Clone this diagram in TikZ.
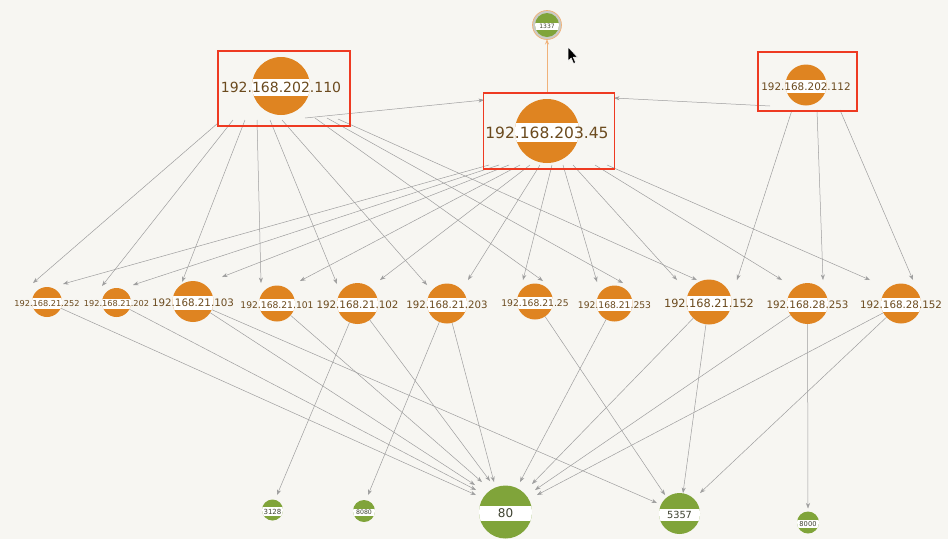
\documentclass[tikz,border=0pt]{standalone}
\usepackage{fontspec}
\setmainfont{DejaVu Sans}
\usetikzlibrary{arrows.meta}
\definecolor{bg}{HTML}{F7F6F2}
\definecolor{ipor}{HTML}{DF8421}
\definecolor{ipgr}{HTML}{80A43A}
\definecolor{iptx}{HTML}{6B4A1E}
\definecolor{pttx}{HTML}{3E4230}
\definecolor{edgec}{HTML}{9E9E9E}
\definecolor{selred}{HTML}{EE3A22}
\definecolor{lnkor}{HTML}{F0B27A}
\definecolor{ringc}{HTML}{CBCBC6}
\pgfdeclarelayer{back}
\pgfdeclarelayer{edges}
\pgfsetlayers{back,edges,main}
\newcommand\gnode[8]{%
  \node[circle, inner sep=0pt, minimum size={2*#4pt}, fill=#7] (#1) at (#2,#3) {};
  \begin{scope}
    \clip (#2,#3) circle[radius=#4pt];
    \fill[white] ({#2-#4-1},{#3+1.5-0.64*#5}) rectangle ({#2+#4+1},{#3+1.5+0.64*#5});
  \end{scope}
  \node[inner sep=0pt, text=#8, font=\fontsize{#5pt}{#5pt}\selectfont] (#1-lbl) at (#2,{#3+1.5}) {#6};
}
\tikzset{
  edge/.style={draw=edgec, line width=0.5pt, -{Stealth[length=5.5pt,width=4pt]}},
  hotedge/.style={draw=lnkor, line width=0.9pt, -{Stealth[length=5.5pt,width=4pt]}},
  selbox/.style={draw=selred, line width=1.1pt}
}
\begin{document}
\begin{tikzpicture}[x=1pt,y=-1pt]
\useasboundingbox (0,0) rectangle (948,539);
\begin{pgfonlayer}{back}
  \fill[bg] (0,0) rectangle (948,539);
\end{pgfonlayer}

% ---- nodes ----
\node[circle, inner sep=0pt, minimum size=29pt, fill=ringc, draw=lnkor, line width=0.7pt] (p1337) at (547,25) {};
\gnode{p1337c}{547}{25}{12}{6}{1337}{ipgr}{pttx}

\gnode{A}{281}{86}{29}{14}{192.168.202.110}{ipor}{iptx}
\gnode{B}{547}{131}{32}{15.5}{192.168.203.45}{ipor}{iptx}
\gnode{C}{806}{85}{20.5}{10.4}{192.168.202.112}{ipor}{iptx}

\gnode{n252}{47}{302}{15}{8.2}{192.168.21.252}{ipor}{iptx}
\gnode{n202}{116.5}{302.5}{14.5}{8.2}{192.168.21.202}{ipor}{iptx}
\gnode{n103}{193}{301.5}{20.5}{10.3}{192.168.21.103}{ipor}{iptx}
\gnode{n101}{277}{303.5}{18}{9.2}{192.168.21.101}{ipor}{iptx}
\gnode{n102}{357.5}{303.5}{20.5}{10.3}{192.168.21.102}{ipor}{iptx}
\gnode{n203}{447}{303.5}{20}{10.2}{192.168.21.203}{ipor}{iptx}
\gnode{n25}{535}{301.5}{18}{9.2}{192.168.21.25}{ipor}{iptx}
\gnode{n253}{614.5}{303.5}{18}{9.2}{192.168.21.253}{ipor}{iptx}
\gnode{n152}{709}{302}{22.5}{11.3}{192.168.21.152}{ipor}{iptx}
\gnode{m253}{807.5}{303.5}{20.5}{10.3}{192.168.28.253}{ipor}{iptx}
\gnode{m152}{901}{303.5}{20}{10.3}{192.168.28.152}{ipor}{iptx}

\gnode{p3128}{272.5}{510}{10.5}{7}{3128}{ipgr}{pttx}
\gnode{p8080}{364}{511}{11}{6.2}{8080}{ipgr}{pttx}
\gnode{p80}{505.5}{512}{26.5}{12}{80}{ipgr}{pttx}
\gnode{p5357}{679.5}{513.5}{20.5}{9.8}{5357}{ipgr}{pttx}
\gnode{p8000}{808}{522.5}{11}{6.7}{8000}{ipgr}{pttx}

% ---- selection boxes ----
\draw[selbox] (218,51) rectangle (350,126);
\draw[selbox] (483.5,93) rectangle (614.5,169);
\draw[selbox] (758,52) rectangle (857,111);

% ---- mouse cursor ----
\filldraw[fill=black, draw=white, line width=0.5pt] (568,47) -- (568,61) -- (571.2,58) -- (573.6,63.5) -- (575.6,62.6) -- (573.2,57.2) -- (577.5,57.2) -- cycle;

% ---- edges ----
\begin{pgfonlayer}{edges}
\draw[hotedge] ([shift={(0,-38)}]B.center) -- ([shift={(0,14)}]p1337.center);

% from 192.168.202.110
\draw[edge] ([shift={(-63,37)}]A.center) -- ([shift={(-14,-19)}]n252.center);
\draw[edge] ([shift={(-48,34)}]A.center) -- ([shift={(-14.5,-16.5)}]n202.center);
\draw[edge] ([shift={(-36,34)}]A.center) -- ([shift={(-11,-19.5)}]n103.center);
\draw[edge] ([shift={(-24,34)}]A.center) -- ([shift={(-16,-20.5)}]n101.center);
\draw[edge] ([shift={(-11,34)}]A.center) -- ([shift={(-20.5,-19.5)}]n102.center);
\draw[edge] ([shift={(1,34)}]A.center) -- ([shift={(-20,-18.5)}]n203.center);
\draw[edge] ([shift={(34,32)}]A.center) -- ([shift={(8,-20.5)}]n25.center);
\draw[edge] ([shift={(46,32)}]A.center) -- ([shift={(8.5,-20.5)}]n253.center);
\draw[edge] ([shift={(57,33)}]A.center) -- ([shift={(-12,-22)}]n152.center);
\draw[edge] ([shift={(24,32)}]A.center) -- ([shift={(-63,-31)}]B.center);

% from 192.168.203.45
\draw[edge] ([shift={(-58,34)}]B.center) -- ([shift={(16,-18)}]n252.center);
\draw[edge] ([shift={(-48,34)}]B.center) -- ([shift={(16.5,-17.5)}]n202.center);
\draw[edge] ([shift={(-38,34)}]B.center) -- ([shift={(29,-24.5)}]n103.center);
\draw[edge] ([shift={(-27,34)}]B.center) -- ([shift={(23,-22.5)}]n101.center);
\draw[edge] ([shift={(-17,34)}]B.center) -- ([shift={(22.5,-23.5)}]n102.center);
\draw[edge] ([shift={(-7,34)}]B.center) -- ([shift={(21,-23.5)}]n203.center);
\draw[edge] ([shift={(5,34)}]B.center) -- ([shift={(-12,-21.5)}]n25.center);
\draw[edge] ([shift={(16,34)}]B.center) -- ([shift={(-17.5,-21.5)}]n253.center);
\draw[edge] ([shift={(26,34)}]B.center) -- ([shift={(-32,-22)}]n152.center);
\draw[edge] ([shift={(48,34)}]B.center) -- ([shift={(-25.5,-23.5)}]m253.center);
\draw[edge] ([shift={(60,34)}]B.center) -- ([shift={(-31,-23.5)}]m152.center);

% from 192.168.202.112
\draw[edge] ([shift={(-14,25)}]C.center) -- ([shift={(28,-22)}]n152.center);
\draw[edge] ([shift={(11,25)}]C.center) -- ([shift={(15.5,-23.5)}]m253.center);
\draw[edge] ([shift={(34,25)}]C.center) -- ([shift={(12,-23.5)}]m152.center);
\draw[edge] ([shift={(-36,21)}]C.center) -- ([shift={(67,-33)}]B.center);

% row to ports
\draw[edge] (n252) -- ([shift={(-29.5,-17)}]p80.center);
\draw[edge] (n202) -- ([shift={(-29.5,-22)}]p80.center);
\draw[edge] (n103) -- ([shift={(-30.5,-27)}]p80.center);
\draw[edge] (n101) -- ([shift={(-23.5,-30)}]p80.center);
\draw[edge] (n102) -- ([shift={(-15.5,-31)}]p80.center);
\draw[edge] (n203) -- ([shift={(-11.5,-30)}]p80.center);
\draw[edge] (n253) -- ([shift={(14.5,-30)}]p80.center);
\draw[edge] (n152) -- ([shift={(26.5,-28)}]p80.center);
\draw[edge] (m253) -- ([shift={(29.5,-22)}]p80.center);
\draw[edge] (m152) -- ([shift={(31.5,-17)}]p80.center);

\draw[edge] (n102) -- ([shift={(4.5,-15)}]p3128.center);
\draw[edge] (n203) -- ([shift={(4,-16)}]p8080.center);
\draw[edge] (m253) -- ([shift={(0,-14)}]p8000.center);

\draw[edge] (n103) -- ([shift={(-22.5,-10.5)}]p5357.center);
\draw[edge] (n25) -- ([shift={(-14.5,-18.5)}]p5357.center);
\draw[edge] (n152) -- ([shift={(3.5,-20.5)}]p5357.center);
\draw[edge] (m152) -- ([shift={(20.5,-20.5)}]p5357.center);
\end{pgfonlayer}
\end{tikzpicture}
\end{document}
